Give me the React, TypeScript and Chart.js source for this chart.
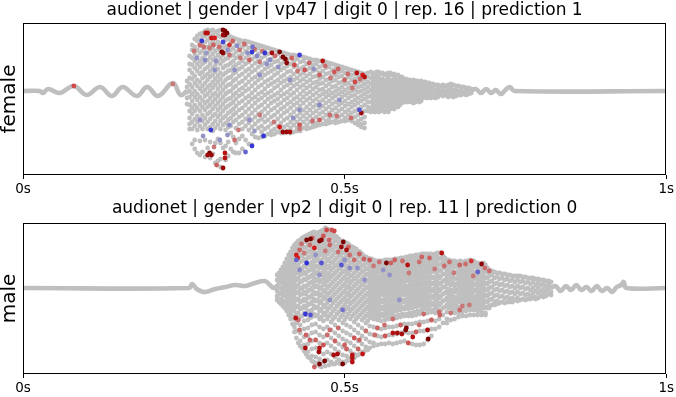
import React, { useEffect, useRef } from 'react';
import { Chart, registerables } from 'chart.js';
Chart.register(...registerables);

const FONT = 'DejaVu Sans';
const xTickValues = [0, 0.5, 1];
const xTickLabels = ['0s', '0.5s', '1s'];

const femaleTitle = 'audionet | gender | vp47 | digit 0 | rep. 16 | prediction 1';
const maleTitle = 'audionet | gender | vp2 | digit 0 | rep. 11 | prediction 0';
const femaleLabel = 'female';
const maleLabel = 'male';

// quiet parts of the waveform: [time (s), amplitude]
const femaleLead = [
  [0, 0], [0.026, 0], [0.031, -2], [0.039, 2], [0.057, -2], [0.079, 5], [0.099, -4], [0.12, 4],
  [0.138, -5], [0.155, 4], [0.177, -5], [0.193, 4], [0.21, -5], [0.233, 8], [0.245, -4], [0.255, 0],
];
const femaleTrail = [
  [0.696, 0], [0.704, 2], [0.712, -2], [0.72, 2], [0.728, -2], [0.735, 1], [0.743, -3], [0.75, 1],
  [0.757, 4], [0.764, 0], [1, 0],
];
const maleLead = [
  [0, 0], [0.258, 0], [0.263, 4], [0.27, -1], [0.283, -4], [0.299, -1], [0.315, 1], [0.33, 3],
  [0.345, 2], [0.361, 5], [0.376, 7], [0.384, 3], [0.39, 0], [0.395, 2],
];
const maleTrail = [
  [0.821, 0], [0.828, 2], [0.836, -3], [0.844, 2], [0.852, -2], [0.86, 3], [0.868, -2], [0.876, 1],
  [0.884, -3], [0.892, 2], [0.9, -3], [0.908, 0], [0.916, -4], [0.923, 1], [0.93, 3], [0.934, 6],
  [0.938, 0], [1, 0],
];

// dense sample cloud: [time (s), amplitude, amplitude, ...]
const femaleCloud = [
  [0.255, 10, 4, -1, -7, -13],
  [0.259, 35, 27, 21, 13, 7, 0, -6, -14, -20, -27, -33, -38],
  [0.263, 46, 41, 33, 26, 18, 12, 4, -3, -10, -17, -23, -31, -38, -53],
  [0.267, 52, 44, 37, 30, 23, 15, 8, 0, -6, -14, -20, -28, -35, -49, -58],
  [0.271, 55, 50, 41, 34, 27, 20, 11, 5, -3, -9, -17, -25, -31, -39, -62],
  [0.275, 57, 51, 45, 38, 30, 24, 17, 9, 2, -6, -13, -20, -28, -35, -50, -64],
  [0.279, 58, 54, 47, 40, 33, 27, 19, 13, 5, -1, -9, -16, -24, -30, -38, -61],
  [0.283, 60, 55, 49, 43, 36, 29, 22, 15, 8, 1, -5, -12, -19, -27, -34, -49, -66],
  [0.287, 61, 57, 51, 44, 38, 31, 24, 17, 11, 4, -3, -10, -16, -23, -31, -38, -57],
  [0.291, 60, 54, 47, 41, 34, 27, 20, 14, 6, 0, -7, -14, -21, -28, -36, -51, -67],
  [0.295, 61, 56, 50, 43, 37, 31, 23, 16, 9, 3, -4, -11, -18, -25, -33, -40, -63],
  [0.299, 59, 53, 47, 40, 33, 26, 19, 12, 6, -2, -8, -15, -23, -30, -37, -52, -72],
  [0.303, 60, 56, 49, 42, 36, 29, 22, 15, 9, 2, -5, -12, -19, -26, -34, -48, -70],
  [0.307, 61, 54, 46, 40, 33, 27, 18, 12, 5, -2, -9, -16, -23, -30, -38, -52, -68, -76],
  [0.311, 59, 55, 49, 43, 36, 30, 23, 16, 8, 1, -6, -13, -20, -27, -34, -57, -77],
  [0.315, 58, 51, 45, 38, 32, 25, 18, 11, 4, -3, -10, -17, -25, -32, -39, -55, -69],
  [0.319, 56, 52, 45, 39, 33, 26, 20, 13, 6, -1, -8, -15, -22, -29, -36, -51, -65],
  [0.323, 54, 48, 41, 35, 28, 21, 14, 7, 0, -7, -13, -20, -27, -35, -42, -58],
  [0.327, 53, 50, 43, 36, 30, 24, 17, 10, 3, -4, -11, -18, -24, -31, -46, -61],
  [0.331, 52, 46, 39, 33, 26, 19, 12, 5, -2, -8, -15, -22, -29, -37, -52, -62],
  [0.336, 51, 48, 41, 35, 28, 22, 15, 8, 1, -5, -12, -19, -26, -33, -48, -62],
  [0.341, 50, 44, 37, 30, 24, 17, 10, 3, -3, -10, -17, -24, -31, -38, -45, -58],
  [0.346, 50, 46, 40, 33, 27, 20, 13, 6, 0, -7, -14, -21, -28, -35, -49],
  [0.351, 49, 43, 36, 29, 22, 16, 9, 2, -5, -11, -18, -25, -32, -39, -53],
  [0.356, 48, 45, 38, 32, 25, 19, 12, 5, -2, -8, -15, -22, -29, -36, -43, -54],
  [0.361, 47, 41, 34, 28, 21, 14, 8, 1, -6, -12, -19, -26, -33, -46],
  [0.366, 46, 43, 37, 30, 24, 17, 11, 4, -3, -9, -16, -23, -30, -37, -47],
  [0.371, 45, 39, 33, 26, 19, 13, 6, -1, -7, -14, -21, -28, -35, -41, -46],
  [0.376, 44, 41, 35, 28, 22, 16, 9, 2, -4, -11, -18, -25, -31, -38, -45],
  [0.381, 43, 37, 31, 24, 18, 11, 5, -2, -8, -15, -22, -29, -36, -43],
  [0.386, 42, 39, 32, 26, 20, 13, 7, 0, -6, -12, -19, -26, -33, -40, -44],
  [0.391, 41, 35, 29, 22, 16, 9, 3, -4, -10, -17, -24, -31, -38, -43],
  [0.396, 40, 37, 30, 24, 18, 11, 5, -2, -8, -14, -21, -28, -35, -41],
  [0.401, 39, 33, 27, 21, 14, 8, 1, -5, -12, -18, -25, -32, -39, -42],
  [0.406, 38, 35, 29, 23, 16, 10, 4, -3, -9, -16, -22, -29, -36, -42],
  [0.411, 37, 31, 25, 19, 12, 6, -1, -7, -13, -20, -27, -34, -40],
  [0.416, 36, 33, 27, 20, 14, 8, 2, -4, -11, -17, -24, -31, -37, -42],
  [0.421, 36, 30, 24, 17, 11, 5, -2, -8, -14, -21, -28, -34, -41],
  [0.426, 35, 32, 25, 19, 13, 7, 1, -6, -12, -18, -25, -31, -37, -40],
  [0.431, 35, 29, 22, 16, 10, 4, -3, -9, -15, -22, -28, -34, -40],
  [0.436, 34, 30, 24, 18, 12, 6, 0, -6, -12, -19, -25, -31, -37],
  [0.441, 33, 27, 21, 15, 9, 3, -3, -9, -16, -22, -28, -34, -38],
  [0.446, 32, 29, 23, 17, 11, 5, -1, -7, -13, -19, -25, -31, -37],
  [0.451, 31, 26, 20, 14, 8, 2, -4, -10, -16, -22, -28, -34, -36],
  [0.456, 31, 27, 21, 15, 9, 4, -2, -8, -14, -20, -26, -32, -35],
  [0.461, 30, 24, 18, 12, 7, 1, -5, -11, -17, -23, -29, -34],
  [0.466, 30, 26, 20, 14, 8, 2, -3, -9, -15, -21, -27, -33],
  [0.471, 29, 23, 17, 11, 5, -1, -6, -12, -18, -24, -30, -33],
  [0.476, 28, 24, 18, 12, 7, 1, -4, -10, -16, -22, -28, -32],
  [0.481, 27, 21, 15, 10, 4, -2, -7, -13, -19, -25, -31],
  [0.486, 26, 22, 16, 11, 5, 0, -5, -11, -17, -23, -29, -32],
  [0.491, 25, 19, 14, 8, 2, -3, -9, -14, -20, -26, -31],
  [0.496, 24, 20, 15, 9, 4, -1, -6, -12, -18, -24, -30],
  [0.501, 23, 18, 12, 7, 1, -4, -10, -15, -21, -27, -30],
  [0.506, 22, 19, 14, 8, 3, -2, -7, -13, -19, -24, -29],
  [0.511, 21, 16, 11, 5, 0, -5, -11, -16, -22, -28, -30],
  [0.516, 20, 17, 12, 6, 1, -4, -9, -14, -20, -26, -32],
  [0.521, 19, 14, 9, 4, -1, -7, -12, -18, -24, -30, -34],
  [0.526, 18, 15, 10, 5, 0, -5, -10, -16, -22, -28, -33, -36],
  [0.531, 17, 12, 7, 2, -3, -8, -14, -20, -26, -32, -37],
  [0.536, 18, 14, 9, 4, -1, -6, -11, -16, -20],
  [0.541, 19, 13, 7, 1, -5, -11, -17, -21],
  [0.544, 16, 10, 4, -2, -8, -14, -19],
  [0.547, 18, 12, 6, 0, -6, -12, -18, -21],
  [0.55, 19, 15, 9, 3, -3, -9, -15, -20],
  [0.553, 19, 13, 7, 1, -5, -11, -17, -21],
  [0.556, 17, 10, 4, -2, -8, -14, -20],
  [0.559, 18, 12, 6, 0, -6, -12, -18],
  [0.562, 16, 9, 3, -3, -9, -15, -21],
  [0.565, 17, 11, 5, -1, -7, -13, -19],
  [0.568, 18, 14, 8, 2, -4, -10, -16, -21],
  [0.571, 18, 11, 5, -1, -7, -13, -18],
  [0.574, 16, 9, 3, -3, -9, -15],
  [0.577, 17, 12, 6, 0, -6, -12, -18],
  [0.58, 15, 9, 3, -3, -9, -15],
  [0.583, 16, 11, 5, -1, -7, -13, -16],
  [0.586, 14, 8, 2, -4, -10, -14],
  [0.589, 14, 10, 4, -2, -8, -12],
  [0.592, 12, 7, 1, -5, -11],
  [0.595, 12, 9, 3, -3, -9, -11],
  [0.598, 11, 6, 0, -6, -11],
  [0.601, 11, 8, 2, -4, -10],
  [0.604, 10, 5, -1, -7, -11],
  [0.607, 11, 7, 2, -3, -9, -12],
  [0.61, 10, 4, -2, -7, -11],
  [0.613, 10, 6, 1, -4, -9],
  [0.616, 9, 3, -2, -7, -11],
  [0.619, 10, 5, 0, -5, -10],
  [0.622, 8, 3, -2, -7],
  [0.625, 9, 5, 0, -5],
  [0.628, 8, 2, -3, -7],
  [0.631, 8, 4, -1, -6],
  [0.634, 7, 2, -3, -7],
  [0.637, 7, 3, -2, -6],
  [0.641, 6, 1, -4, -7],
  [0.645, 6, 2, -2, -6],
  [0.649, 5, 0, -4],
  [0.653, 6, 2, -2, -5],
  [0.657, 5, 0, -4],
  [0.661, 6, 2, -2, -6],
  [0.665, 7, 3, -1, -5],
  [0.669, 6, 1, -3, -6],
  [0.673, 5, 1, -3, -5],
  [0.677, 5, 0, -4],
  [0.681, 4, 0, -4],
  [0.685, 4, -1, -3],
  [0.689, 3, 0, -4],
  [0.693, 3, -1, -3],
  [0.697, 2, -2],
];

const maleCloud = [
  [0.395, 13, 8, 2, -3, -8, -12],
  [0.398, 15, 10, 5, 0, -6, -11, -14],
  [0.401, 18, 12, 6, 0, -5, -11, -16],
  [0.404, 21, 15, 9, 3, -3, -8, -14, -18],
  [0.407, 25, 19, 12, 6, 0, -7, -13, -20],
  [0.41, 29, 23, 16, 10, 3, -3, -9, -16, -23],
  [0.413, 33, 26, 20, 13, 7, 0, -6, -13, -20, -27],
  [0.416, 36, 30, 23, 17, 10, 4, -3, -10, -17, -24, -31],
  [0.419, 40, 34, 27, 21, 14, 7, 1, -6, -13, -20, -28, -36],
  [0.422, 43, 37, 31, 24, 18, 11, 4, -2, -9, -16, -23, -31, -39, -44],
  [0.425, 45, 40, 34, 28, 21, 15, 8, 1, -5, -12, -19, -27, -35, -43, -50],
  [0.428, 47, 42, 36, 29, 23, 16, 10, 3, -4, -11, -18, -25, -32, -55],
  [0.431, 48, 44, 38, 32, 26, 19, 13, 6, -1, -7, -14, -21, -29, -37, -45, -53, -58],
  [0.434, 50, 45, 39, 33, 27, 20, 14, 7, 0, -6, -13, -20, -28, -60],
  [0.437, 51, 47, 41, 35, 29, 22, 16, 9, 2, -4, -11, -18, -25, -33, -41, -49, -57, -63],
  [0.44, 52, 46, 40, 34, 27, 21, 14, 8, 1, -6, -13, -20, -27, -66],
  [0.443, 53, 48, 42, 36, 30, 23, 17, 10, 3, -3, -10, -17, -24, -32, -40, -48, -56, -64, -69],
  [0.446, 54, 50, 44, 37, 31, 24, 18, 11, 5, -2, -9, -16, -23, -30, -70],
  [0.449, 55, 51, 45, 39, 33, 26, 20, 13, 6, 0, -7, -14, -22, -29, -37, -45, -53, -61, -68, -73],
  [0.452, 56, 49, 43, 36, 30, 23, 17, 10, 3, -4, -11, -18, -26, -74],
  [0.455, 55, 52, 46, 40, 34, 27, 21, 14, 7, 1, -6, -13, -20, -28, -36, -44, -52, -60, -69, -77],
  [0.458, 55, 48, 42, 35, 29, 22, 16, 9, 2, -5, -12, -19, -27, -75],
  [0.461, 56, 51, 45, 39, 33, 26, 20, 13, 6, -1, -8, -15, -23, -31, -39, -47, -55, -63, -71, -78],
  [0.464, 57, 54, 47, 41, 35, 28, 22, 15, 8, 1, -6, -13, -21, -29, -79],
  [0.467, 58, 52, 45, 39, 32, 25, 19, 12, 5, -2, -9, -17, -25, -33, -41, -49, -57, -66, -74],
  [0.47, 60, 55, 49, 43, 36, 30, 23, 16, 9, 3, -4, -11, -19, -27, -78],
  [0.473, 59, 53, 47, 40, 34, 27, 20, 13, 7, 0, -7, -15, -23, -31, -39, -47, -55, -64, -72],
  [0.476, 58, 54, 48, 42, 36, 29, 22, 15, 9, 2, -5, -12, -20, -28, -77],
  [0.479, 56, 50, 44, 38, 31, 25, 18, 11, 4, -3, -10, -18, -26, -34, -42, -50, -58, -66, -74],
  [0.482, 54, 51, 45, 39, 33, 26, 20, 13, 6, -1, -8, -15, -23, -31, -76],
  [0.485, 52, 47, 41, 35, 28, 22, 15, 8, 1, -6, -13, -21, -29, -37, -45, -53, -61, -69, -76],
  [0.488, 51, 48, 42, 36, 30, 23, 17, 10, 3, -4, -11, -18, -26, -74],
  [0.491, 49, 44, 38, 32, 25, 19, 12, 5, -2, -9, -16, -24, -32, -40, -48, -56, -64, -72, -75],
  [0.494, 47, 45, 39, 33, 27, 20, 14, 7, 0, -7, -14, -21, -29, -76],
  [0.497, 47, 41, 35, 29, 22, 16, 9, 2, -5, -12, -19, -27, -35, -43, -51, -59, -67, -74],
  [0.5, 46, 42, 36, 30, 24, 17, 11, 4, -3, -10, -17, -24, -32, -75],
  [0.503, 45, 39, 33, 27, 20, 14, 7, 0, -7, -14, -21, -29, -37, -45, -53, -61, -68, -73],
  [0.506, 44, 41, 35, 29, 22, 16, 9, 2, -5, -12, -19, -26, -72],
  [0.509, 42, 37, 31, 25, 18, 12, 5, -2, -9, -16, -23, -31, -39, -47, -55, -63, -70],
  [0.512, 41, 38, 32, 26, 20, 13, 7, 0, -7, -14, -21, -28, -68],
  [0.515, 40, 34, 28, 22, 15, 9, 2, -5, -12, -19, -26, -34, -42, -50, -58, -66, -70],
  [0.518, 39, 35, 29, 23, 17, 10, 4, -3, -10, -17, -24, -31, -68],
  [0.521, 37, 31, 25, 19, 12, 6, -1, -8, -15, -22, -29, -37, -45, -53, -61, -67],
  [0.524, 36, 32, 26, 20, 14, 7, 1, -6, -13, -20, -27, -66],
  [0.527, 34, 28, 22, 16, 9, 3, -4, -11, -18, -25, -32, -40, -48, -56, -64],
  [0.53, 32, 29, 23, 17, 11, 4, -2, -9, -16, -23, -30, -64],
  [0.533, 31, 25, 19, 13, 6, 0, -7, -14, -21, -28, -35, -43, -51, -59, -62],
  [0.536, 30, 26, 20, 14, 8, 1, -5, -12, -19, -26, -33, -62],
  [0.539, 29, 23, 17, 11, 4, -2, -9, -16, -23, -30, -38, -46, -54, -60],
  [0.542, 29, 25, 19, 13, 7, 0, -6, -13, -20, -27],
  [0.545, 28, 22, 16, 10, 3, -3, -10, -17, -24, -31, -39, -47, -55, -58],
  [0.548, 27, 24, 18, 12, 6, -1, -7, -14, -21, -28],
  [0.551, 27, 21, 15, 9, 2, -4, -11, -18, -25, -32, -40, -48, -57],
  [0.554, 27, 23, 17, 11, 5, -2, -8, -15, -22, -29],
  [0.557, 27, 21, 15, 8, 2, -5, -12, -19, -26, -33, -41, -49, -56],
  [0.56, 27, 24, 18, 12, 6, -1, -7, -14, -21, -28],
  [0.563, 28, 22, 16, 9, 3, -4, -11, -18, -25, -32, -40, -48, -56],
  [0.566, 28, 25, 19, 13, 6, 0, -7, -14, -21, -28],
  [0.569, 28, 22, 16, 10, 3, -3, -10, -17, -24, -31, -39, -47, -55],
  [0.572, 28, 25, 19, 13, 7, 0, -6, -13, -20, -27],
  [0.575, 28, 22, 16, 10, 4, -3, -10, -17, -24, -31, -39, -47, -56],
  [0.578, 29, 25, 19, 13, 7, 1, -6, -13, -20, -28],
  [0.581, 29, 23, 17, 11, 5, -2, -9, -16, -23, -30, -38, -46, -55],
  [0.584, 29, 26, 20, 14, 8, 1, -5, -12, -19, -27],
  [0.587, 30, 23, 17, 11, 5, -1, -8, -15, -22, -29, -37, -45, -54],
  [0.59, 30, 27, 21, 15, 8, 2, -5, -12, -19, -26],
  [0.593, 30, 24, 18, 12, 6, -1, -7, -14, -21, -28, -36, -44, -53],
  [0.596, 31, 27, 21, 15, 9, 2, -4, -11, -18, -26],
  [0.599, 31, 25, 19, 13, 7, 0, -7, -14, -21, -28, -36, -45, -55],
  [0.602, 32, 28, 22, 16, 10, 3, -3, -10, -17, -25],
  [0.605, 32, 26, 20, 13, 7, 1, -6, -13, -20, -28, -36, -45, -56],
  [0.608, 32, 29, 23, 17, 11, 4, -2, -9, -16, -24],
  [0.611, 33, 27, 21, 14, 8, 2, -5, -12, -19, -27, -35, -44, -57],
  [0.614, 33, 29, 23, 17, 11, 5, -1, -8, -15, -23],
  [0.617, 33, 27, 21, 15, 9, 2, -4, -11, -18, -26, -34, -43, -57],
  [0.62, 34, 30, 24, 18, 12, 5, -1, -8, -15, -22],
  [0.623, 34, 28, 22, 16, 9, 3, -4, -11, -18, -26, -34, -43, -56],
  [0.626, 34, 30, 24, 18, 12, 6, -1, -7, -14, -21],
  [0.629, 34, 28, 22, 16, 10, 3, -3, -10, -17, -25, -33, -42, -52],
  [0.632, 34, 30, 25, 19, 13, 6, 0, -7, -14, -21],
  [0.635, 34, 28, 22, 16, 10, 4, -3, -10, -17, -24, -32, -41, -48],
  [0.638, 33, 29, 24, 18, 11, 5, -1, -8, -15, -22],
  [0.641, 34, 28, 22, 16, 9, 3, -4, -11, -18, -25, -33, -41],
  [0.644, 35, 31, 25, 19, 13, 6, 0, -7, -14, -21],
  [0.647, 35, 29, 23, 17, 10, 4, -3, -10, -17, -24, -31, -39],
  [0.65, 35, 30, 24, 18, 12, 5, -1, -8, -15, -22],
  [0.653, 32, 26, 20, 14, 7, 1, -6, -13, -20, -27, -35],
  [0.656, 30, 26, 20, 14, 8, 1, -5, -12, -19],
  [0.659, 28, 22, 16, 10, 4, -3, -10, -17, -24, -31, -35],
  [0.662, 28, 24, 18, 12, 6, -1, -7, -14, -20],
  [0.665, 27, 21, 15, 9, 3, -4, -11, -18, -25, -32],
  [0.668, 27, 23, 17, 11, 5, -2, -8, -15, -21],
  [0.671, 27, 21, 15, 9, 2, -4, -11, -18, -25, -31],
  [0.674, 26, 22, 16, 10, 4, -2, -9, -15, -21],
  [0.677, 26, 20, 14, 8, 2, -5, -12, -19, -25, -29],
  [0.68, 27, 23, 17, 11, 5, -1, -8, -14, -20],
  [0.683, 26, 20, 14, 8, 2, -4, -11, -18, -24, -28],
  [0.686, 26, 23, 17, 11, 5, -1, -7, -14, -20],
  [0.689, 27, 21, 15, 9, 3, -3, -10, -17, -23, -28],
  [0.692, 27, 24, 18, 12, 6, 0, -6, -13, -19],
  [0.695, 28, 22, 16, 10, 4, -3, -9, -16, -22, -27],
  [0.698, 27, 24, 18, 12, 6, 0, -6, -12, -18],
  [0.701, 27, 21, 15, 9, 3, -3, -10, -16, -22, -27],
  [0.704, 25, 22, 16, 10, 4, -2, -8, -14, -20],
  [0.707, 25, 19, 13, 7, 1, -5, -11, -17, -23, -27],
  [0.71, 24, 21, 15, 9, 3, -3, -9, -15, -21],
  [0.713, 24, 18, 12, 6, 0, -6, -12, -18, -24, -27],
  [0.716, 25, 21, 15, 9, 3, -3, -9, -15, -20],
  [0.719, 23, 17, 11, 5, -1, -7, -13, -19, -25, -27],
  [0.722, 20, 16, 10, 4, -2, -8, -14, -20],
  [0.725, 18, 12, 6, 0, -6, -12, -18, -20],
  [0.729, 17, 13, 7, 1, -5, -11, -17],
  [0.733, 16, 10, 4, -2, -8, -14, -17],
  [0.737, 15, 11, 5, -1, -7, -13, -16],
  [0.741, 15, 9, 3, -3, -9, -15],
  [0.745, 14, 10, 4, -2, -8, -14],
  [0.749, 14, 8, 2, -4, -10, -15],
  [0.753, 13, 9, 3, -3, -9, -14],
  [0.757, 13, 7, 1, -5, -11, -14],
  [0.761, 12, 8, 2, -4, -10, -14],
  [0.765, 12, 6, 0, -6, -12],
  [0.769, 12, 8, 2, -4, -10, -13],
  [0.773, 12, 6, 0, -6, -12],
  [0.777, 11, 7, 1, -5, -11],
  [0.781, 11, 5, -1, -7, -12],
  [0.785, 10, 6, 0, -6, -11],
  [0.789, 10, 4, -2, -8, -11],
  [0.793, 10, 6, 0, -5, -10],
  [0.797, 9, 3, -3, -9, -11],
  [0.801, 9, 5, 0, -5, -10],
  [0.805, 8, 3, -3, -8],
  [0.809, 8, 4, -1, -6, -9],
  [0.813, 7, 2, -3, -8],
  [0.817, 7, 3, -1, -6],
  [0.821, 6, 1, -4, -7],
];

// samples with notable relevance: [time (s), amplitude, relevance -1..1]
const femaleRelevant = [
  [0.079, 5, 0.5], [0.233, 7, 0.3],
  [0.266, 40, 0.3], [0.27, 33, -0.3], [0.281, 44, 0.35], [0.285, 38, -0.25], [0.296, 46, 0.4], [0.3, 30, -0.3],
  [0.305, 44, 0.35], [0.318, 41, -0.3], [0.326, 50, 0.4], [0.333, 45, -0.35], [0.338, 33, 0.3], [0.344, 47, 0.35],
  [0.349, 38, -0.3], [0.36, 42, 0.35], [0.364, 35, -0.35], [0.372, 40, 0.3], [0.379, 27, -0.3], [0.392, 35, 0.35],
  [0.397, 24, -0.3], [0.418, 33, 0.4], [0.427, 20, 0.3], [0.445, 28, 0.4], [0.452, 22, -0.3], [0.47, 25, 0.35],
  [0.478, 13, 0.3], [0.49, 22, 0.4], [0.505, 17, 0.35], [0.512, 3, 0.3], [0.524, 12, 0.35],
  [0.28, -45, -0.3], [0.297, -56, 0.3], [0.318, -44, -0.3], [0.335, -39, 0.3], [0.36, -40, -0.25],
  [0.39, -31, 0.3], [0.42, -27, -0.3], [0.45, -30, 0.35], [0.488, -25, 0.3], [0.51, -27, 0.35],
  [0.278, 50, -0.9], [0.284, 58, 0.8], [0.287, 58, 0.8], [0.311, 61, 1], [0.314, 60, 1], [0.317, 58, 1],
  [0.314, 56, 1], [0.311, 56, 0.9], [0.293, 53, 0.75], [0.298, 53, 0.7], [0.309, 39, 1], [0.311, 38, 0.95],
  [0.311, 49, -0.8], [0.321, 46, 0.6], [0.356, 39, -0.9], [0.357, 44, -0.5], [0.376, 38, -0.9],
  [0.387, 38, 0.85], [0.399, 39, 1], [0.404, 34, 1], [0.408, 32, 1], [0.41, 28, 0.95], [0.43, 36, -0.85],
  [0.466, 30, 0.8], [0.519, 18, 0.8], [0.528, 16, 0.7], [0.531, 14, 0.8], [0.526, -22, 0.9], [0.523, -19, -0.7],
  [0.292, -39, -0.9], [0.374, -45, -0.9], [0.356, -55, -0.9], [0.346, -61, -0.6], [0.404, -41, 0.9],
  [0.41, -41, 0.9], [0.415, -41, 0.85], [0.399, -36, 0.7], [0.29, -62, 1], [0.293, -64, 0.9],
  [0.314, -62, 0.8], [0.314, -67, 0.8], [0.311, -77, 0.9], [0.287, -64, 0.9], [0.301, -74, 0.4],
  [0.275, 46, 0.35], [0.29, 43, 0.3], [0.321, 36, 0.35], [0.337, 41, 0.3], [0.352, 31, 0.4], [0.368, 29, 0.3],
  [0.422, 26, 0.5], [0.438, 21, 0.45], [0.461, 16, 0.4], [0.484, 19, 0.45], [0.5, 11, 0.4], [0.516, 9, 0.5],
  [0.283, 31, -0.35], [0.298, 21, -0.3], [0.329, 21, -0.3], [0.368, 16, -0.3], [0.384, 31, -0.35],
  [0.415, 11, -0.3], [0.275, -29, -0.3], [0.321, -34, -0.35], [0.352, -29, -0.3], [0.43, -19, -0.3],
  [0.461, -14, -0.35], [0.492, -9, -0.3], [0.306, -49, -0.3], [0.329, -49, 0.35], [0.368, -24, 0.3],
  [0.43, -34, 0.45], [0.461, -29, 0.4], [0.477, -24, 0.35], [0.43, -38, 0.3],
];

const maleRelevant = [
  [0.433, 44, 0.35], [0.437, 35, 0.3], [0.45, 50, 0.4], [0.455, 33, -0.3], [0.467, 52, 0.45], [0.47, 37, 0.3],
  [0.476, 48, 0.4], [0.49, 36, 0.35], [0.5, 28, -0.3], [0.506, 41, 0.4], [0.515, 28, 0.35], [0.52, 20, -0.3],
  [0.53, 29, 0.4], [0.545, 22, 0.3], [0.56, 18, -0.3], [0.572, 25, 0.4], [0.59, 27, 0.35], [0.6, 15, 0.3],
  [0.62, 31, 0.4], [0.64, 19, 0.3], [0.655, 22, 0.35], [0.67, 15, 0.3], [0.688, 24, 0.35], [0.7, 12, 0.3],
  [0.718, 20, 0.35],
  [0.428, -32, 0.35], [0.44, -47, 0.4], [0.455, -52, 0.4], [0.467, -57, 0.45], [0.473, -47, 0.35],
  [0.485, -53, 0.4], [0.49, -40, 0.35], [0.503, -61, 0.4], [0.515, -50, 0.45], [0.521, -61, 0.4],
  [0.533, -43, 0.35], [0.551, -40, 0.4], [0.563, -48, 0.45], [0.575, -31, 0.35], [0.587, -37, 0.4],
  [0.599, -55, 0.45], [0.611, -44, 0.4], [0.623, -26, 0.35], [0.635, -32, 0.4], [0.647, -24, 0.35],
  [0.665, -25, 0.3], [0.683, -18, 0.3],
  [0.441, 48, 1], [0.447, 49, 1], [0.461, 47, 1], [0.464, 48, 0.95], [0.498, 46, 1], [0.495, 41, 0.9],
  [0.503, 38, 0.85], [0.472, 58, 0.5], [0.48, 58, 0.45], [0.484, 57, 0.5], [0.425, 33, 0.7], [0.427, 30, 0.7],
  [0.441, 25, -0.95], [0.425, 28, -0.6], [0.464, 25, -0.7], [0.495, 23, -0.7], [0.453, 40, 0.7],
  [0.439, -26, -0.9], [0.447, -27, -0.7], [0.424, -30, 0.8], [0.497, -22, -0.5], [0.439, -60, 0.85],
  [0.461, -60, 0.8], [0.46, -64, 0.9], [0.461, -76, 1], [0.469, -73, 1], [0.497, -76, 1], [0.483, -67, 0.85],
  [0.489, -66, 0.85], [0.512, -67, 0.8], [0.512, -70, 0.8], [0.512, -74, 0.8], [0.453, -79, 0.4],
  [0.528, -66, 0.75], [0.651, 35, 0.8], [0.713, 24, 0.95], [0.697, 27, 0.6], [0.565, 25, 1], [0.598, 23, 0.8],
  [0.707, 16, -0.6], [0.575, -45, 0.8], [0.582, -45, 0.85], [0.589, -46, 0.85], [0.595, -42, 1],
  [0.596, -40, 1], [0.606, -49, 0.8], [0.63, -51, 1], [0.629, -42, 0.85],
  [0.43, 38, 0.4], [0.446, 43, 0.35], [0.477, 43, 0.4], [0.508, 33, 0.35], [0.523, 34, 0.4], [0.539, 28, 0.45],
  [0.554, 26, 0.35], [0.578, 28, 0.4], [0.616, 26, 0.35], [0.632, 30, 0.4], [0.663, 26, 0.35], [0.679, 23, 0.4],
  [0.725, 17, 0.35], [0.43, -42, 0.35], [0.446, -52, 0.4], [0.477, -42, 0.35], [0.5, -57, 0.4], [0.523, -52, 0.4],
  [0.547, -47, 0.35], [0.562, -37, 0.35], [0.616, -37, 0.35], [0.648, -27, 0.4], [0.679, -22, 0.35],
  [0.694, -17, 0.3], [0.43, 18, -0.35], [0.461, 13, -0.3], [0.508, 20, -0.35], [0.477, -12, -0.3],
  [0.531, 8, -0.3], [0.57, 13, -0.3], [0.585, -12, -0.3],
];

const GRAY = [191, 191, 191];
function mix(a: number[], b: number[], k: number) {
  return a.map((v, i) => Math.round(v + (b[i] - v) * k));
}
function relColor(r: number): string {
  let c: number[];
  if (r >= 0) {
    if (r <= 0.7) c = mix(GRAY, [214, 26, 26], r / 0.7);
    else c = mix([214, 26, 26], [125, 0, 0], (r - 0.7) / 0.3);
  } else {
    c = mix(GRAY, [40, 40, 218], -r);
  }
  return `rgb(${c[0]},${c[1]},${c[2]})`;
}

const framePlugin = {
  id: 'frame',
  afterDatasetsDraw(chart: any) {
    const { ctx, chartArea: a } = chart;
    ctx.save();
    ctx.strokeStyle = '#000';
    ctx.lineWidth = 1;
    ctx.strokeRect(Math.round(a.left) + 0.5, Math.round(a.top) + 0.5, Math.round(a.right - a.left) - 1, Math.round(a.bottom - a.top) - 1);
    ctx.restore();
  },
};

type PanelProps = {
  title: string; label: string; lead: number[][]; trail: number[][]; cloud: number[][]; relevant: number[][];
  yMin: number; yMax: number; height: number; titleBox: number; xBox: number;
};

function Panel(p: PanelProps) {
  const ref = useRef<HTMLCanvasElement>(null);
  useEffect(() => {
    const cloudPts: { x: number; y: number }[] = [];
    p.cloud.forEach((row) => { for (let i = 1; i < row.length; i++) cloudPts.push({ x: row[0], y: row[i] }); });
    const relPts = p.relevant.map((r) => ({ x: r[0], y: r[1] }));
    const relCols = p.relevant.map((r) => relColor(r[2]));
    const lineStyle = {
      type: 'line' as const, showLine: true, borderColor: relColor(0), borderWidth: 4.6, pointRadius: 0,
      tension: 0.4, order: 3,
    };
    const fontSize = 17;
    const lh = 1.2;
    const padTop = 11 - (fontSize * lh) / 2;
    const chart = new Chart(ref.current!, {
      type: 'scatter',
      data: {
        datasets: [
          { ...lineStyle, data: p.lead.map((d) => ({ x: d[0], y: d[1] })) },
          { ...lineStyle, data: p.trail.map((d) => ({ x: d[0], y: d[1] })) },
          { data: cloudPts, backgroundColor: relColor(0), pointRadius: 2.4, borderWidth: 0, order: 2 },
          { data: relPts, backgroundColor: relCols, pointRadius: 2.4, borderWidth: 0, order: 1 },
        ] as any,
      },
      options: {
        animation: false,
        responsive: false,
        events: [],
        layout: { padding: { left: 0, right: 9, top: 0, bottom: 0 } },
        plugins: {
          legend: { display: false },
          tooltip: { enabled: false },
          title: {
            display: true, text: p.title, fullSize: false, color: '#000',
            font: { family: FONT, size: fontSize, weight: 'normal', lineHeight: lh },
            padding: { top: padTop, bottom: p.titleBox - padTop - fontSize * lh },
          },
        },
        scales: {
          x: {
            type: 'linear', min: 0, max: 1,
            afterFit: (s: any) => { s.height = p.xBox; },
            afterBuildTicks: (s: any) => { s.ticks = xTickValues.map((v) => ({ value: v })); },
            ticks: {
              autoSkip: false, maxRotation: 0, padding: 2, color: '#000',
              font: { family: FONT, size: 13.5 },
              callback: (v: any) => xTickLabels[xTickValues.indexOf(Number(v))] ?? '',
            },
            grid: { display: true, drawOnChartArea: false, drawTicks: true, tickLength: 4, color: '#000' },
            border: { display: false },
          },
          y: {
            type: 'linear', min: p.yMin, max: p.yMax,
            afterFit: (s: any) => { s.width = 23; },
            ticks: { display: false },
            grid: { display: false },
            border: { display: false },
            title: {
              display: true, text: p.label, color: '#000',
              font: { family: FONT, size: 20, lineHeight: 1 }, padding: { top: 0, bottom: 0 },
            },
          },
        },
      } as any,
      plugins: [framePlugin],
    });
    return () => chart.destroy();
  }, []);
  return <canvas ref={ref} width={676} height={p.height} style={{ display: 'block' }} />;
}

export default function App() {
  return (
    <div style={{ position: 'absolute', left: 0, top: 0, width: 676, height: 397, background: '#fff' }}>
      <Panel title={femaleTitle} label={femaleLabel} lead={femaleLead} trail={femaleTrail} cloud={femaleCloud}
        relevant={femaleRelevant} yMin={-84} yMax={68} height={198} titleBox={23} xBox={23} />
      <Panel title={maleTitle} label={maleLabel} lead={maleLead} trail={maleTrail} cloud={maleCloud}
        relevant={maleRelevant} yMin={-86} yMax={65} height={199} titleBox={25} xBox={23} />
    </div>
  );
}
